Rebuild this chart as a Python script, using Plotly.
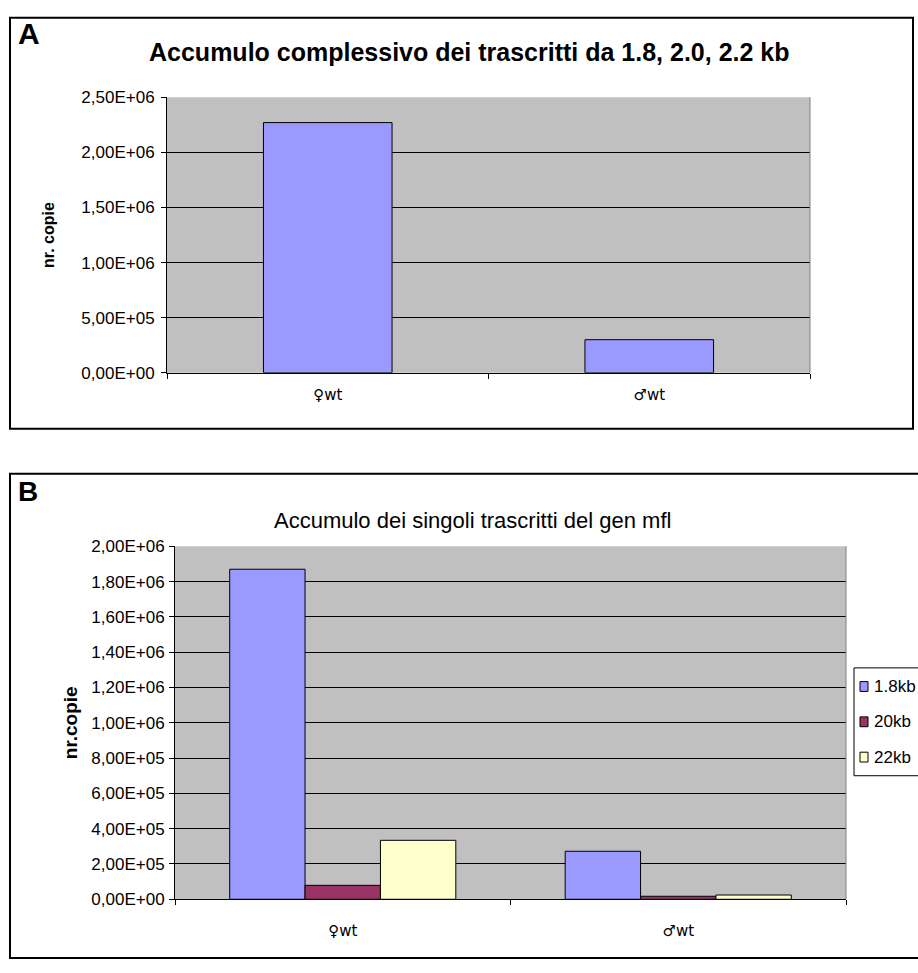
import plotly.graph_objects as go

# ---- data ----
categories = ["♀wt", "♂wt"]

# Panel A: total accumulation of the 1.8, 2.0, 2.2 kb transcripts
total_copies = [2.27e6, 3.0e5]
ticks_a = [0, 5e5, 1e6, 1.5e6, 2e6, 2.5e6]
ticklabels_a = ["0,00E+00", "5,00E+05", "1,00E+06", "1,50E+06", "2,00E+06", "2,50E+06"]

# Panel B: single transcripts of the mfl gene
series_names = ["1.8kb", "20kb", "22kb"]
copies_18kb = [1.87e6, 2.72e5]
copies_20kb = [7.9e4, 1.7e4]
copies_22kb = [3.34e5, 2.4e4]
ticks_b = [0, 2e5, 4e5, 6e5, 8e5, 1e6, 1.2e6, 1.4e6, 1.6e6, 1.8e6, 2e6]
ticklabels_b = ["0,00E+00", "2,00E+05", "4,00E+05", "6,00E+05", "8,00E+05", "1,00E+06",
                "1,20E+06", "1,40E+06", "1,60E+06", "1,80E+06", "2,00E+06"]

series_colors = ["#9999FF", "#993366", "#FFFFCC"]

# ---- page geometry (pixels) ----
W, H = 918, 973


def px_x(x):
    return x / W


def px_y(y):
    return 1 - y / H


FONT_A = "Liberation Sans, Arial, sans-serif"
FONT_SYM = "DejaVu Sans, Liberation Sans, sans-serif"

fig = go.Figure()

fig.add_trace(go.Bar(
    x=categories, y=total_copies, width=0.4,
    marker=dict(color="#9999FF", line=dict(color="black", width=1)),
    showlegend=False, xaxis="x", yaxis="y",
))

for name, vals, col in zip(series_names, [copies_18kb, copies_20kb, copies_22kb], series_colors):
    fig.add_trace(go.Bar(
        x=categories, y=vals, name=name, showlegend=False,
        marker=dict(color=col, line=dict(color="black", width=1)),
        xaxis="x2", yaxis="y2",
    ))

common_x = dict(type="category", showline=True, linecolor="black", linewidth=1,
                ticks="outside", tickson="boundaries", ticklen=5, tickcolor="black",
                showgrid=False, zeroline=False, fixedrange=True)
common_y = dict(showline=True, linecolor="black", linewidth=1, ticks="outside",
                ticklen=5, tickcolor="black", showgrid=True, gridcolor="black",
                gridwidth=1, zeroline=False, fixedrange=True)

fig.update_layout(
    width=W, height=H,
    margin=dict(l=0, r=0, t=0, b=0),
    paper_bgcolor="white",
    plot_bgcolor="#C0C0C0",
    barmode="group", bargap=0.326, bargroupgap=0,
    showlegend=False,
    xaxis=dict(**common_x, domain=[px_x(167), px_x(810)], anchor="y",
               tickfont=dict(family=FONT_SYM, size=15, color="black"),
               ticklabelstandoff=8),
    yaxis=dict(**common_y, domain=[px_y(371), px_y(90)], anchor="x",
               range=[0, 2.5e6], tickvals=ticks_a, ticktext=ticklabels_a,
               tickfont=dict(family=FONT_A, size=17, color="black"),
               ticklabelstandoff=3,
               title=dict(text="<b>nr. copie</b>", font=dict(family=FONT_A, size=16, color="black"),
                          standoff=22)),
    xaxis2=dict(**common_x, domain=[px_x(175), px_x(846)], anchor="y2",
                tickfont=dict(family=FONT_SYM, size=15, color="black"),
                ticklabelstandoff=18),
    yaxis2=dict(**common_y, domain=[px_y(908), px_y(548)], anchor="x2",
                range=[0, 2e6], tickvals=ticks_b, ticktext=ticklabels_b,
                tickfont=dict(family=FONT_A, size=17, color="black"),
                ticklabelstandoff=1,
                title=dict(text="<b>nr.copie</b>", font=dict(family=FONT_A, size=19, color="black"),
                           standoff=8)),
)

# panel frames and plot-area borders
shapes = [
    dict(type="rect", xref="paper", yref="paper", x0=px_x(10), x1=px_x(913),
         y0=px_y(428), y1=px_y(9), line=dict(color="black", width=2)),
    dict(type="rect", xref="paper", yref="paper", x0=px_x(10), x1=px_x(930),
         y0=px_y(968), y1=px_y(474), line=dict(color="black", width=2)),
    dict(type="line", xref="paper", yref="paper", x0=px_x(810), x1=px_x(810),
         y0=px_y(371), y1=px_y(90), line=dict(color="#808080", width=1)),
    dict(type="line", xref="paper", yref="paper", x0=px_x(846), x1=px_x(846),
         y0=px_y(908), y1=px_y(548), line=dict(color="#808080", width=1)),
]

annotations = [
    dict(text="<b>A</b>", x=px_x(16), y=px_y(6), xref="paper", yref="paper",
         xanchor="left", yanchor="top", showarrow=False,
         font=dict(family=FONT_A, size=30, color="black")),
    dict(text="<b>Accumulo complessivo dei trascritti da 1.8, 2.0, 2.2 kb</b>",
         x=px_x(469), y=px_y(44), xref="paper", yref="paper",
         xanchor="center", yanchor="middle", showarrow=False,
         font=dict(family=FONT_A, size=25, color="black")),
    dict(text="<b>B</b>", x=px_x(16), y=px_y(474), xref="paper", yref="paper",
         xanchor="left", yanchor="top", showarrow=False,
         font=dict(family=FONT_A, size=28, color="black")),
    dict(text="Accumulo dei singoli trascritti del gen mfl",
         x=px_x(472), y=px_y(522), xref="paper", yref="paper",
         xanchor="center", yanchor="middle", showarrow=False,
         font=dict(family=FONT_A, size=22, color="black")),
]

# legend box for panel B, built from the series lists
legend_left, legend_top, row_step = 854, 672, 36
shapes.append(dict(type="rect", xref="paper", yref="paper",
                   x0=px_x(legend_left), x1=px_x(935),
                   y0=px_y(legend_top + 110), y1=px_y(legend_top),
                   line=dict(color="black", width=1), fillcolor="white"))
for i, (name, col) in enumerate(zip(series_names, series_colors)):
    cy = legend_top + 19 + i * row_step
    shapes.append(dict(type="rect", xref="paper", yref="paper",
                       x0=px_x(legend_left + 6), x1=px_x(legend_left + 14),
                       y0=px_y(cy + 5), y1=px_y(cy - 5),
                       line=dict(color="black", width=1), fillcolor=col))
    annotations.append(dict(text=name, x=px_x(legend_left + 18), y=px_y(cy),
                            xref="paper", yref="paper", xanchor="left", yanchor="middle",
                            showarrow=False,
                            font=dict(family=FONT_A, size=17, color="black")))

fig.update_layout(shapes=shapes, annotations=annotations)

fig.write_html("out.html")
